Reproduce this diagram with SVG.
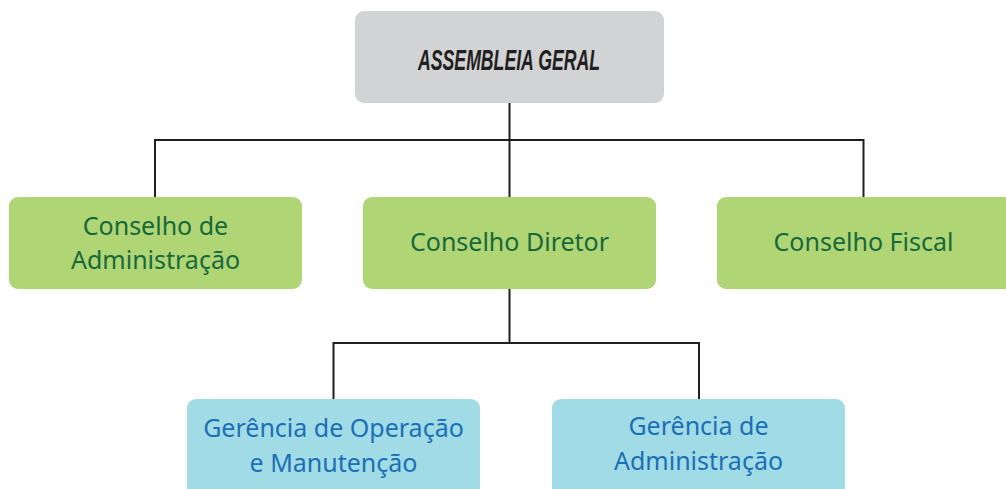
<svg xmlns="http://www.w3.org/2000/svg" width="1006" height="489" viewBox="0 0 1006 489">
<style>
.box-gray{fill:#d1d3d4}
.box-green{fill:#b0d575}
.box-blue{fill:#a1dbe6}
.t-green{font-family:"Noto Sans","Open Sans",sans-serif;font-size:25px;fill:#17693a;text-anchor:middle}
.t-blue{font-family:"Noto Sans","Open Sans",sans-serif;font-size:25px;fill:#1a6fb5;text-anchor:middle}
.t-top{font-family:"Liberation Sans",Arial,sans-serif;font-size:29px;font-weight:bold;font-style:italic;fill:#231f20;text-anchor:middle}
.conn{fill:none;stroke:#231f20;stroke-width:2}
</style>
<rect width="1006" height="489" fill="#ffffff"/>
<g id="connectors">
<path class="conn" d="M509.5 103V197M155 197V140H863.5V197"/>
<path class="conn" d="M509.5 289V343M333.5 399V343H699V399"/>
</g>
<g id="assembleia">
<rect class="box-gray" x="355" y="11" width="309" height="92" rx="9"/>
<text class="t-top" x="509" y="70" textLength="182" lengthAdjust="spacingAndGlyphs">ASSEMBLEIA GERAL</text>
</g>
<g id="conselho-admin">
<rect class="box-green" x="9" y="197" width="293" height="92" rx="9"/>
<text class="t-green" x="155.5" y="235">Conselho de</text>
<text class="t-green" x="155.5" y="269">Administração</text>
</g>
<g id="conselho-diretor">
<rect class="box-green" x="363" y="197" width="293" height="92" rx="9"/>
<text class="t-green" x="509.5" y="251">Conselho Diretor</text>
</g>
<g id="conselho-fiscal">
<rect class="box-green" x="717" y="197" width="300" height="92" rx="9"/>
<text class="t-green" x="863.5" y="251">Conselho Fiscal</text>
</g>
<g id="gerencia-operacao">
<rect class="box-blue" x="187" y="399" width="293" height="100" rx="9"/>
<text class="t-blue" x="333.5" y="437">Gerência de Operação</text>
<text class="t-blue" x="333.5" y="472">e Manutenção</text>
</g>
<g id="gerencia-admin">
<rect class="box-blue" x="552" y="399" width="293" height="100" rx="9"/>
<text class="t-blue" x="698.5" y="435">Gerência de</text>
<text class="t-blue" x="698.5" y="470">Administração</text>
</g>
</svg>
